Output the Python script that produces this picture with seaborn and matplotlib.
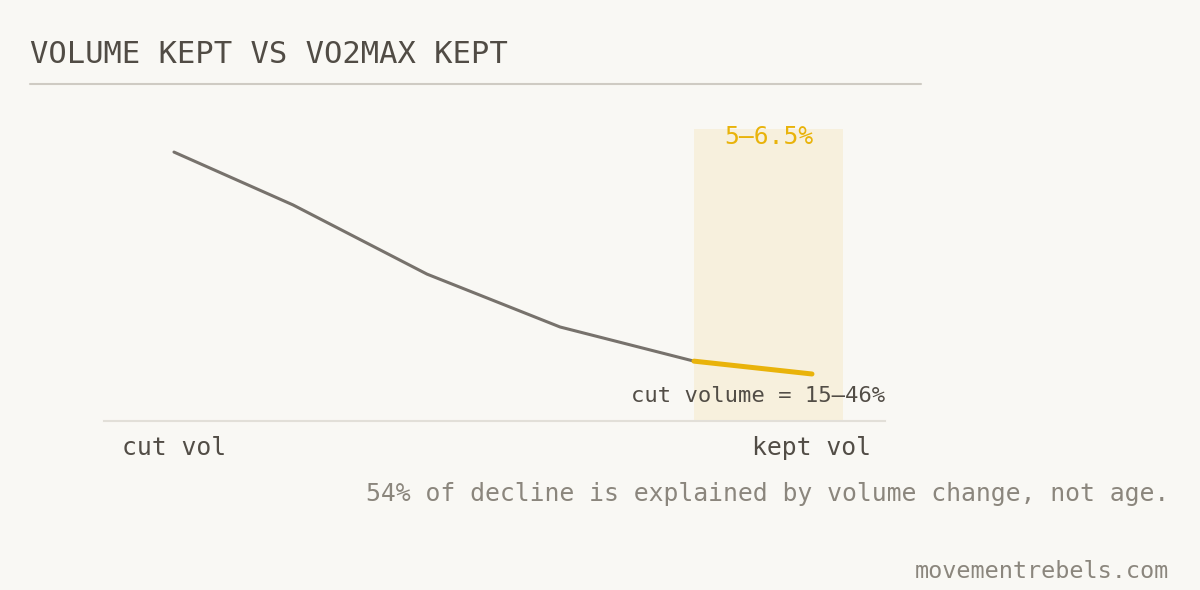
import seaborn as sns
import matplotlib.pyplot as plt
from matplotlib.lines import Line2D

# position along volume axis (0 = cut vol, 100 = kept vol) and VO2max kept
volume_pos = [8.96, 24.2, 41.36, 58.39, 75.54, 90.65]
vo2_kept = [92.1, 74.0, 50.3, 32.2, 20.5, 16.1]
band = (75.54, 94.62)
tick_labels = ["cut vol", "kept vol"]

title = "VOLUME KEPT VS VO2MAX KEPT"
band_label = "5\u20136.5%"
band_note = "cut volume = 15\u201346%"
footnote = "54% of decline is explained by volume change, not age."
source = "movementrebels.com"

BG = "#f9f8f4"
GREY = "#77726c"
GOLD = "#e9b30a"
DARK = "#524d46"
MUTED = "#8b867d"

sns.set_theme(style="white", rc={"figure.facecolor": BG, "axes.facecolor": BG})
plt.rcParams["font.family"] = ["DejaVu Sans Mono", "DejaVu Sans"]

fig = plt.figure(figsize=(12, 5.9), dpi=100)
ax = fig.add_axes([104 / 1200, 1 - 421 / 590, 781 / 1200, 292 / 590])

ax.axvspan(band[0], band[1], color="#f7f0dd", lw=0, zorder=0)
sns.lineplot(x=volume_pos[:-1], y=vo2_kept[:-1], ax=ax, color=GREY, lw=2.2, zorder=2)
sns.lineplot(x=volume_pos[-2:], y=vo2_kept[-2:], ax=ax, color=GOLD, lw=3.6, zorder=3)

ax.set_xlim(0, 100)
ax.set_ylim(0, 100)
ax.set_yticks([])
ax.set_xticks([volume_pos[0], volume_pos[-1]], tick_labels)
ax.tick_params(axis="x", length=0, pad=11, labelsize=17.8, labelcolor=DARK)
for s in ["top", "left", "right"]:
    ax.spines[s].set_visible(False)
ax.spines["bottom"].set_color("#e2dfd8")
ax.spines["bottom"].set_linewidth(1.5)

# annotations inside the plot
ax.text((band[0] + band[1]) / 2, 95, band_label, ha="center", va="baseline",
        fontsize=17.7, color=GOLD)
ax.text(100, 6.5, band_note, ha="right", va="baseline", fontsize=16, color=DARK)

fig.text(30 / 1200, 1 - 63 / 590, title, ha="left", va="baseline", fontsize=22, color="#514c45")
fig.add_artist(Line2D([30 / 1200, 921 / 1200], [1 - 84 / 590] * 2, color="#cfcbc3", lw=1.5))
fig.text(1169 / 1200, 1 - 501 / 590, footnote, ha="right", va="baseline", fontsize=17.8, color=MUTED)
fig.text(1169 / 1200, 1 - 578 / 590, source, ha="right", va="baseline", fontsize=16.9, color=MUTED)

fig.savefig("out.png", dpi=100, facecolor=BG)
